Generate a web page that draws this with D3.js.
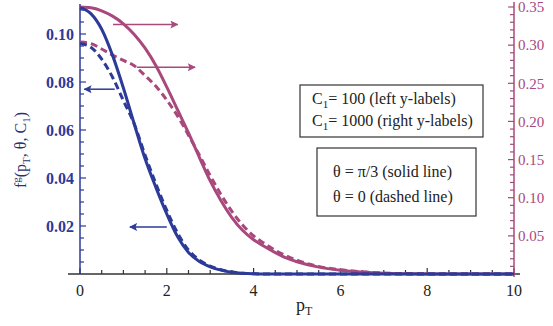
<!DOCTYPE html>
<html>
<head>
<meta charset="utf-8">
<script src="https://cdn.jsdelivr.net/npm/d3@7"></script>
<style>
  body { margin: 0; background: #fff; }
</style>
</head>
<body>
<div id="chart"></div>
<script>
var width = 553
var height = 326
var serif = '"Liberation Serif", "DejaVu Serif", serif'

// transverse momentum grid
var pT = [0, 0.25, 0.5, 0.75, 1, 1.25, 1.5, 1.75, 2, 2.25, 2.5, 2.75, 3, 3.25, 3.5, 3.75, 4, 4.25, 4.5, 4.75, 5, 5.5, 6, 6.5, 7, 7.5, 8, 8.5, 9, 9.5, 10]

// C1 = 100 (left axis)
var blueSolid = [0.1110, 0.1085, 0.1020, 0.0911, 0.0775, 0.0625, 0.0480, 0.0360, 0.0250, 0.0155, 0.0090, 0.0052, 0.0030, 0.0016, 0.0007, 0.0003, 0.0001, 0, 0, 0, 0, 0, 0, 0, 0, 0, 0, 0, 0, 0, 0]
var blueDashed = [0.0960, 0.0945, 0.0895, 0.0820, 0.0722, 0.0625, 0.0495, 0.0375, 0.0265, 0.0170, 0.0100, 0.0058, 0.0033, 0.0018, 0.0008, 0.0003, 0.0001, 0, 0, 0, 0, 0, 0, 0, 0, 0, 0, 0, 0, 0, 0]

// C1 = 1000 (right axis)
var redSolid = [0.350, 0.349, 0.345, 0.338, 0.328, 0.314, 0.296, 0.273, 0.245, 0.215, 0.185, 0.153, 0.122, 0.096, 0.074, 0.057, 0.045, 0.036, 0.028, 0.021, 0.016, 0.009, 0.005, 0.0025, 0.001, 0.0004, 0.0001, 0, 0, 0, 0]
var redDashed = [0.304, 0.302, 0.295, 0.287, 0.280, 0.273, 0.260, 0.246, 0.228, 0.207, 0.182, 0.156, 0.129, 0.104, 0.082, 0.064, 0.050, 0.040, 0.031, 0.024, 0.018, 0.010, 0.0055, 0.003, 0.0013, 0.0005, 0.0002, 0, 0, 0, 0]

var xTicks = [0, 2, 4, 6, 8, 10]
var leftTicks = [0.02, 0.04, 0.06, 0.08, 0.10]
var rightTicks = [0.05, 0.10, 0.15, 0.20, 0.25, 0.30, 0.35]

var legend1 = ['100 (left y-labels)', '1000 (right y-labels)']
var legend2 = ['\u03b8 = \u03c0/3 (solid line)', '\u03b8 = 0 (dashed line)']

var blue = '#2c3a98'
var red = '#a8487c'
var ink = '#222'

var svg = d3.select('#chart').append('svg')
  .attr('width', width).attr('height', height)
  .style('font-family', serif)

var x = d3.scaleLinear().domain([0, 10]).range([80, 514])
var yL = d3.scaleLinear().domain([0, 0.1125]).range([274, 4])
var yR = d3.scaleLinear().domain([0, 0.35]).range([274, 7])

var defs = svg.append('defs')
function marker(id, col) {
  defs.append('marker')
    .attr('id', id)
    .attr('viewBox', '0 0 10 10')
    .attr('refX', 9).attr('refY', 5)
    .attr('markerWidth', 9).attr('markerHeight', 8)
    .attr('markerUnits', 'userSpaceOnUse')
    .attr('orient', 'auto')
    .append('path').attr('d', 'M0,0 L10,5 L0,10 L2,5 Z').attr('fill', col)
}
marker('ar-red', red)
marker('ar-blue', blue)

// x axis
var xAxis = svg.append('g').attr('transform', `translate(0, ${yL(0)})`)
xAxis.append('line').attr('x1', 68).attr('x2', 520).attr('stroke', '#333').attr('stroke-width', 1.5)
xAxis.selectAll('.minor').data(d3.range(0, 10.01, 0.5)).enter().append('line')
  .attr('x1', d => x(d)).attr('x2', d => x(d))
  .attr('y1', 0).attr('y2', d => xTicks.includes(d) ? -6 : -4)
  .attr('stroke', '#333').attr('stroke-width', 1.2)
xAxis.selectAll('.lab').data(xTicks).enter().append('text')
  .attr('x', d => x(d)).attr('y', 22)
  .attr('text-anchor', 'middle').attr('font-size', 16).attr('fill', ink)
  .attr('font-family', serif)
  .text(d => d)

// left axis
var lAxis = svg.append('g').attr('transform', `translate(${x(0)}, 0)`)
lAxis.append('line').attr('y1', yL(0)).attr('y2', yL(0.1125)).attr('stroke', blue).attr('stroke-width', 1.5)
lAxis.selectAll('.tk').data(d3.range(0.005, 0.1125, 0.005)).enter().append('line')
  .attr('y1', d => yL(d)).attr('y2', d => yL(d))
  .attr('x1', 0).attr('x2', (d, i) => (i % 4 === 3) ? 6 : 4)
  .attr('stroke', blue).attr('stroke-width', 1.2)
lAxis.selectAll('.lab').data(leftTicks).enter().append('text')
  .attr('x', -6).attr('y', d => yL(d)).attr('dy', '0.35em')
  .attr('text-anchor', 'end').attr('font-size', 16).attr('fill', blue)
  .attr('font-weight', 'bold').attr('font-family', serif)
  .text(d => d3.format('.2f')(d))

// right axis
var rAxis = svg.append('g').attr('transform', `translate(${x(10)}, 0)`)
rAxis.append('line').attr('y1', yR(0) + 3).attr('y2', 2).attr('stroke', red).attr('stroke-width', 1.5)
rAxis.selectAll('.tk').data(d3.range(0.01, 0.355, 0.01)).enter().append('line')
  .attr('y1', d => yR(d)).attr('y2', d => yR(d))
  .attr('x1', 0).attr('x2', (d, i) => (i % 5 === 4) ? -6 : -4)
  .attr('stroke', red).attr('stroke-width', 1.2)
rAxis.selectAll('.lab').data(rightTicks).enter().append('text')
  .attr('x', 4).attr('y', d => yR(d)).attr('dy', '0.35em')
  .attr('font-size', 15).attr('fill', red).attr('font-family', serif)
  .text(d => d3.format('.2f')(d))

// curves
function drawCurve(vals, scale, col, dashed) {
  var line = d3.line()
    .x((d, i) => x(pT[i]))
    .y(d => scale(d))
    .curve(d3.curveMonotoneX)
  svg.append('path').datum(vals)
    .attr('d', line)
    .attr('fill', 'none')
    .attr('stroke', col)
    .attr('stroke-width', 3)
    .attr('stroke-dasharray', dashed ? '7,4' : null)
}
drawCurve(redDashed, yR, red, true)
drawCurve(redSolid, yR, red, false)
drawCurve(blueDashed, yL, blue, true)
drawCurve(blueSolid, yL, blue, false)

// arrows pointing to the axis each curve belongs to
function arrow(p0, p1, v, scale, col, id) {
  svg.append('line')
    .attr('x1', x(p0)).attr('x2', x(p1))
    .attr('y1', scale(v)).attr('y2', scale(v))
    .attr('stroke', col).attr('stroke-width', 1.5)
    .attr('marker-end', `url(#${id})`)
}
arrow(0.76, 2.25, 0.327, yR, red, 'ar-red')
arrow(1.31, 2.65, 0.271, yR, red, 'ar-red')
arrow(0.8, 0.1, 0.077, yL, blue, 'ar-blue')
arrow(2.0, 1.15, 0.0196, yL, blue, 'ar-blue')

// legend boxes
var box1 = svg.append('g')
box1.append('rect').attr('x', 300).attr('y', 85).attr('width', 183).attr('height', 52)
  .attr('fill', 'white').attr('stroke', '#333').attr('stroke-width', 1.2)
legend1.forEach((t, i) => {
  var txt = box1.append('text').attr('x', 312).attr('y', 104 + i * 22)
    .attr('font-size', 16).attr('fill', ink).attr('font-family', serif)
  txt.append('tspan').text('C')
  txt.append('tspan').attr('font-size', 11).attr('dy', 4).text('1')
  txt.append('tspan').attr('dy', -4).text('= ' + t)
})

var box2 = svg.append('g')
box2.append('rect').attr('x', 317).attr('y', 148).attr('width', 159).attr('height', 68)
  .attr('fill', 'white').attr('stroke', '#333').attr('stroke-width', 1.2)
legend2.forEach((t, i) => {
  box2.append('text').attr('x', 333).attr('y', 177 + i * 25)
    .attr('font-size', 16).attr('fill', ink).attr('font-family', serif).text(t)
})

// axis titles
var yt = svg.append('text')
  .attr('transform', 'translate(26, 150) rotate(-90)')
  .attr('text-anchor', 'middle').attr('font-size', 16).attr('fill', '#2a3170')
  .attr('font-family', serif)
yt.append('tspan').text('f')
yt.append('tspan').attr('font-size', 11).attr('dy', -6).text('g')
yt.append('tspan').attr('dy', 6).text('(p')
yt.append('tspan').attr('font-size', 11).attr('dy', 4).text('T')
yt.append('tspan').attr('dy', -4).text(', \u03b8, C')
yt.append('tspan').attr('font-size', 11).attr('dy', 4).text('1')
yt.append('tspan').attr('dy', -4).text(')')

var xt = svg.append('text').attr('x', 296).attr('y', 311)
  .attr('font-size', 18).attr('fill', ink).attr('font-family', serif)
xt.append('tspan').text('p')
xt.append('tspan').attr('font-size', 12).attr('dy', 4).text('T')
</script>
</body>
</html>
